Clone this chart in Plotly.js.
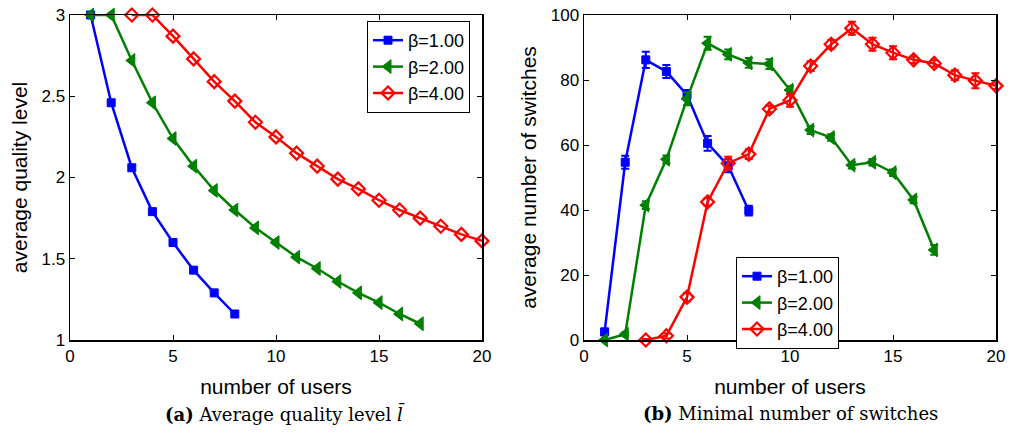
<!DOCTYPE html>
<html>
<head>
<meta charset="utf-8">
<script src="https://cdn.plot.ly/plotly-3.0.1.min.js"></script>
<style>html,body{margin:0;padding:0;background:#fff;}#chart{width:1012px;height:432px;}</style>
</head>
<body>
<div id="chart"></div>
<script>
// ---- data ----
const legendNames = ["β=1.00", "β=2.00", "β=4.00"];

// (a) average quality level
const usersB1 = [1, 2, 3, 4, 5, 6, 7, 8];
const qualityB1 = [3.0, 2.46, 2.06, 1.79, 1.60, 1.43, 1.29, 1.16];
const usersB2 = [1, 2, 3, 4, 5, 6, 7, 8, 9, 10, 11, 12, 13, 14, 15, 16, 17];
const qualityB2 = [3.0, 3.0, 2.72, 2.46, 2.24, 2.07, 1.92, 1.80, 1.69, 1.60, 1.51, 1.44, 1.36, 1.29, 1.23, 1.16, 1.10];
const usersB4 = [3, 4, 5, 6, 7, 8, 9, 10, 11, 12, 13, 14, 15, 16, 17, 18, 19, 20];
const qualityB4 = [3.0, 3.0, 2.87, 2.73, 2.59, 2.47, 2.34, 2.25, 2.15, 2.07, 1.99, 1.93, 1.86, 1.80, 1.75, 1.70, 1.65, 1.61];

// (b) minimal number of switches (with error)
const switchesB1 = [2.5, 54.7, 86.2, 82.6, 75.4, 60.5, 53.6, 39.8];
const switchesErrB1 = [1.0, 2.0, 2.5, 2.0, 1.5, 2.3, 2.0, 1.5];
const switchesB2 = [0, 1.8, 41.5, 55.6, 74.2, 91.3, 87.9, 85.3, 84.9, 76.9, 64.6, 62.3, 53.8, 54.7, 51.5, 43.1, 27.7];
const switchesErrB2 = [0.3, 0.5, 1.2, 1.2, 2.0, 2.0, 1.5, 1.5, 1.5, 1.2, 1.2, 1.0, 1.0, 1.0, 1.0, 1.0, 1.5];
const switchesB4 = [0, 1.3, 13.2, 42.5, 54.4, 57.2, 71.1, 73.8, 84.3, 91.0, 95.9, 91.0, 88.4, 86.2, 85.1, 81.5, 79.8, 78.2];
const switchesErrB4 = [0.3, 0.8, 1.3, 1.2, 2.0, 1.5, 1.0, 2.0, 1.5, 1.3, 2.0, 2.0, 2.0, 1.0, 1.0, 1.5, 2.3, 1.0];

const xTicks = [0, 5, 10, 15, 20];
const qualityTicks = [1, 1.5, 2, 2.5, 3];
const switchTicks = [0, 20, 40, 60, 80, 100];

// ---- styles ----
const colors = ["#0000ff", "#008000", "#ff0000"];
const markers = [
  {symbol: "square", size: 8, color: colors[0], line: {color: colors[0], width: 1}},
  {symbol: "triangle-left", size: 12, color: colors[1], line: {color: colors[1], width: 1}},
  {symbol: "diamond-open", size: 10, color: colors[2], line: {color: colors[2], width: 2.2}}
];
const lineW = 2.5;

function qTrace(x, y, i) {
  return {x: x, y: y, type: "scatter", mode: "lines+markers", name: legendNames[i],
    xaxis: "x", yaxis: "y", legend: "legend", cliponaxis: false,
    line: {color: colors[i], width: lineW}, marker: markers[i]};
}
function sTrace(x, y, e, i) {
  return {x: x, y: y, type: "scatter", mode: "lines+markers", name: legendNames[i],
    xaxis: "x2", yaxis: "y2", legend: "legend2", cliponaxis: false,
    error_y: {type: "data", array: e, visible: true, color: colors[i], thickness: 2, width: 4},
    line: {color: colors[i], width: lineW}, marker: markers[i]};
}

const data = [
  qTrace(usersB1, qualityB1, 0),
  qTrace(usersB2, qualityB2, 1),
  qTrace(usersB4, qualityB4, 2),
  sTrace(usersB1, switchesB1, switchesErrB1, 0),
  sTrace(usersB2, switchesB2, switchesErrB2, 1),
  sTrace(usersB4, switchesB4, switchesErrB4, 2)
];

const SANS = "'Liberation Sans', Arial, sans-serif";
const SERIF = "'DejaVu Serif', 'Liberation Serif', serif";
const tickFont = {family: SANS, size: 17, color: "#000"};
const titleFont = {family: SANS, size: 21, color: "#000"};
function axis(extra) {
  return Object.assign({
    showline: true, linecolor: "#000", linewidth: 1.5, mirror: "ticks",
    ticks: "inside", ticklen: 5, tickwidth: 1, tickcolor: "#000",
    showgrid: false, zeroline: false, tickfont: tickFont, automargin: false
  }, extra);
}

const yDom = [92 / 432, 417 / 432];
const layout = {
  width: 1012, height: 432,
  margin: {l: 0, r: 0, t: 0, b: 0},
  paper_bgcolor: "#fff", plot_bgcolor: "#fff",
  showlegend: true,
  xaxis: axis({domain: [70 / 1012, 482 / 1012], range: [0, 20], tickvals: xTicks, anchor: "y",
    title: {text: "number of users", font: titleFont, standoff: 14}}),
  yaxis: axis({domain: yDom, range: [1, 3], tickvals: qualityTicks, anchor: "x",
    title: {text: "average quality level", font: titleFont, standoff: 8}}),
  xaxis2: axis({domain: [584 / 1012, 996 / 1012], range: [0, 20], tickvals: xTicks, anchor: "y2",
    title: {text: "number of users", font: titleFont, standoff: 14}}),
  yaxis2: axis({domain: yDom, range: [0, 100], tickvals: switchTicks, anchor: "x2",
    title: {text: "average number of switches", font: titleFont, standoff: 8}}),
  legend: {x: 367 / 1012, y: (432 - 21) / 432, xanchor: "left", yanchor: "top",
    bgcolor: "#fff", bordercolor: "#000", borderwidth: 1,
    font: {family: SANS, size: 18, color: "#000"},
    tracegroupgap: 0, itemwidth: 30},
  legend2: {x: 736 / 1012, y: (432 - 257) / 432, xanchor: "left", yanchor: "top",
    bgcolor: "#fff", bordercolor: "#000", borderwidth: 1,
    font: {family: SANS, size: 18, color: "#000"},
    tracegroupgap: 0, itemwidth: 30},
  annotations: [
    {xref: "paper", yref: "paper", x: 285 / 1012, y: 19 / 432, xanchor: "center", yanchor: "middle",
      showarrow: false, text: "<b>(a)</b> Average quality level <i>l̄</i>",
      font: {family: SERIF, size: 18, color: "#000"}},
    {xref: "paper", yref: "paper", x: 790 / 1012, y: 19 / 432, xanchor: "center", yanchor: "middle",
      showarrow: false, text: "<b>(b)</b> Minimal number of switches",
      font: {family: SERIF, size: 18, color: "#000"}}
  ]
};

Plotly.newPlot("chart", data, layout, {displayModeBar: false, staticPlot: true});
</script>
</body>
</html>
